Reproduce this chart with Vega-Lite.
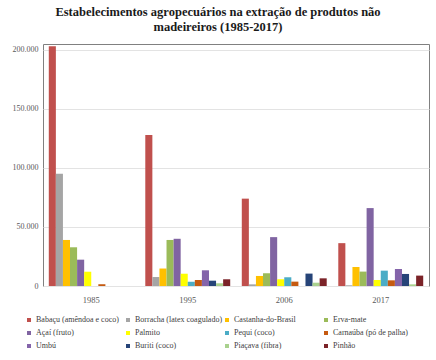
{
  "$schema": "https://vega.github.io/schema/vega-lite/v6.json",
  "width": 386,
  "height": 242,
  "autosize": {"type": "none"},
  "padding": {"left": 43, "top": 44, "right": 7, "bottom": 74},
  "background": "white",
  "title": {
    "text": ["Estabelecimentos agropecuários na extração de produtos não", "madeireiros (1985-2017)"],
    "font": "Liberation Serif",
    "fontSize": 12.5,
    "fontWeight": "bold",
    "color": "#1a1a1a",
    "anchor": "middle",
    "dx": -18,
    "offset": 11,
    "lineHeight": 15
  },
  "config": {
    "font": "Liberation Serif",
    "view": {"stroke": "#808080", "strokeWidth": 1}
  },
  "data": {
    "values": [
      {"ano": "1985", "produto": "Babaçu (amêndoa e coco)", "valor": 203000},
      {"ano": "1985", "produto": "Borracha (latex coagulado)", "valor": 95000},
      {"ano": "1985", "produto": "Castanha-do-Brasil", "valor": 39000},
      {"ano": "1985", "produto": "Erva-mate", "valor": 32800},
      {"ano": "1985", "produto": "Açaí (fruto)", "valor": 22300},
      {"ano": "1985", "produto": "Palmito", "valor": 12100},
      {"ano": "1985", "produto": "Pequi (coco)", "valor": 0},
      {"ano": "1985", "produto": "Carnaúba (pó de palha)", "valor": 1500},
      {"ano": "1985", "produto": "Umbú", "valor": 0},
      {"ano": "1985", "produto": "Buriti (coco)", "valor": 0},
      {"ano": "1985", "produto": "Piaçava (fibra)", "valor": 0},
      {"ano": "1985", "produto": "Pinhão", "valor": 0},
      {"ano": "1995", "produto": "Babaçu (amêndoa e coco)", "valor": 128000},
      {"ano": "1995", "produto": "Borracha (latex coagulado)", "valor": 7600},
      {"ano": "1995", "produto": "Castanha-do-Brasil", "valor": 14800},
      {"ano": "1995", "produto": "Erva-mate", "valor": 39000},
      {"ano": "1995", "produto": "Açaí (fruto)", "valor": 40000},
      {"ano": "1995", "produto": "Palmito", "valor": 10400},
      {"ano": "1995", "produto": "Pequi (coco)", "valor": 3600},
      {"ano": "1995", "produto": "Carnaúba (pó de palha)", "valor": 5100},
      {"ano": "1995", "produto": "Umbú", "valor": 13300},
      {"ano": "1995", "produto": "Buriti (coco)", "valor": 4500},
      {"ano": "1995", "produto": "Piaçava (fibra)", "valor": 2300},
      {"ano": "1995", "produto": "Pinhão", "valor": 5700},
      {"ano": "2006", "produto": "Babaçu (amêndoa e coco)", "valor": 74000},
      {"ano": "2006", "produto": "Borracha (latex coagulado)", "valor": 1400},
      {"ano": "2006", "produto": "Castanha-do-Brasil", "valor": 8500},
      {"ano": "2006", "produto": "Erva-mate", "valor": 10800},
      {"ano": "2006", "produto": "Açaí (fruto)", "valor": 41400},
      {"ano": "2006", "produto": "Palmito", "valor": 5700},
      {"ano": "2006", "produto": "Pequi (coco)", "valor": 7400},
      {"ano": "2006", "produto": "Carnaúba (pó de palha)", "valor": 3700},
      {"ano": "2006", "produto": "Umbú", "valor": 0},
      {"ano": "2006", "produto": "Buriti (coco)", "valor": 10500},
      {"ano": "2006", "produto": "Piaçava (fibra)", "valor": 2800},
      {"ano": "2006", "produto": "Pinhão", "valor": 6500},
      {"ano": "2017", "produto": "Babaçu (amêndoa e coco)", "valor": 36300},
      {"ano": "2017", "produto": "Borracha (latex coagulado)", "valor": 600},
      {"ano": "2017", "produto": "Castanha-do-Brasil", "valor": 16100},
      {"ano": "2017", "produto": "Erva-mate", "valor": 12200},
      {"ano": "2017", "produto": "Açaí (fruto)", "valor": 66000},
      {"ano": "2017", "produto": "Palmito", "valor": 5100},
      {"ano": "2017", "produto": "Pequi (coco)", "valor": 13000},
      {"ano": "2017", "produto": "Carnaúba (pó de palha)", "valor": 4800},
      {"ano": "2017", "produto": "Umbú", "valor": 14400},
      {"ano": "2017", "produto": "Buriti (coco)", "valor": 10200},
      {"ano": "2017", "produto": "Piaçava (fibra)", "valor": 1400},
      {"ano": "2017", "produto": "Pinhão", "valor": 8800}
    ]
  },
  "mark": {"type": "bar"},
  "encoding": {
    "x": {
      "field": "ano",
      "type": "nominal",
      "scale": {"paddingInner": 0.12, "paddingOuter": 0.06},
      "axis": {
        "title": null,
        "labelAngle": 0,
        "labelFont": "Liberation Serif",
        "labelFontSize": 8.5,
        "labelColor": "#595959",
        "labelPadding": 9,
        "ticks": false,
        "domain": false
      }
    },
    "xOffset": {
      "field": "produto",
      "type": "nominal",
      "sort": ["Babaçu (amêndoa e coco)", "Borracha (latex coagulado)", "Castanha-do-Brasil", "Erva-mate", "Açaí (fruto)", "Palmito", "Pequi (coco)", "Carnaúba (pó de palha)", "Umbú", "Buriti (coco)", "Piaçava (fibra)", "Pinhão"],
      "scale": {"paddingInner": 0, "paddingOuter": 0}
    },
    "y": {
      "field": "valor",
      "type": "quantitative",
      "scale": {"domain": [0, 205000], "nice": false},
      "axis": {
        "title": null,
        "values": [0, 50000, 100000, 150000, 200000],
        "labelExpr": "replace(format(datum.value, ','), ',', '.')",
        "labelFont": "Liberation Serif",
        "labelFontSize": 8,
        "labelColor": "#595959",
        "labelPadding": 5,
        "ticks": false,
        "domain": false,
        "gridColor": "#e3e3e3",
        "gridWidth": 1
      }
    },
    "color": {
      "field": "produto",
      "type": "nominal",
      "sort": ["Babaçu (amêndoa e coco)", "Borracha (latex coagulado)", "Castanha-do-Brasil", "Erva-mate", "Açaí (fruto)", "Palmito", "Pequi (coco)", "Carnaúba (pó de palha)", "Umbú", "Buriti (coco)", "Piaçava (fibra)", "Pinhão"],
      "scale": {
        "domain": ["Babaçu (amêndoa e coco)", "Borracha (latex coagulado)", "Castanha-do-Brasil", "Erva-mate", "Açaí (fruto)", "Palmito", "Pequi (coco)", "Carnaúba (pó de palha)", "Umbú", "Buriti (coco)", "Piaçava (fibra)", "Pinhão"],
        "range": ["#C0504D", "#A5A5A5", "#FFC000", "#9BBB59", "#8064A2", "#FFFF00", "#4BACC6", "#C55A11", "#8464AA", "#264478", "#A9D18E", "#7B2328"]
      },
      "legend": {
        "title": null,
        "orient": "none",
        "legendX": -18,
        "legendY": 272,
        "direction": "horizontal",
        "columns": 4,
        "gridAlign": "all",
        "columnPadding": 0,
        "rowPadding": 5,
        "symbolType": "square",
        "symbolSize": 16,
        "symbolStrokeWidth": 0,
        "symbolOffset": 0,
        "labelFont": "Liberation Serif",
        "labelFontSize": 8,
        "labelColor": "#404040",
        "labelOffset": 3,
        "labelLimit": 120
      }
    }
  }
}
